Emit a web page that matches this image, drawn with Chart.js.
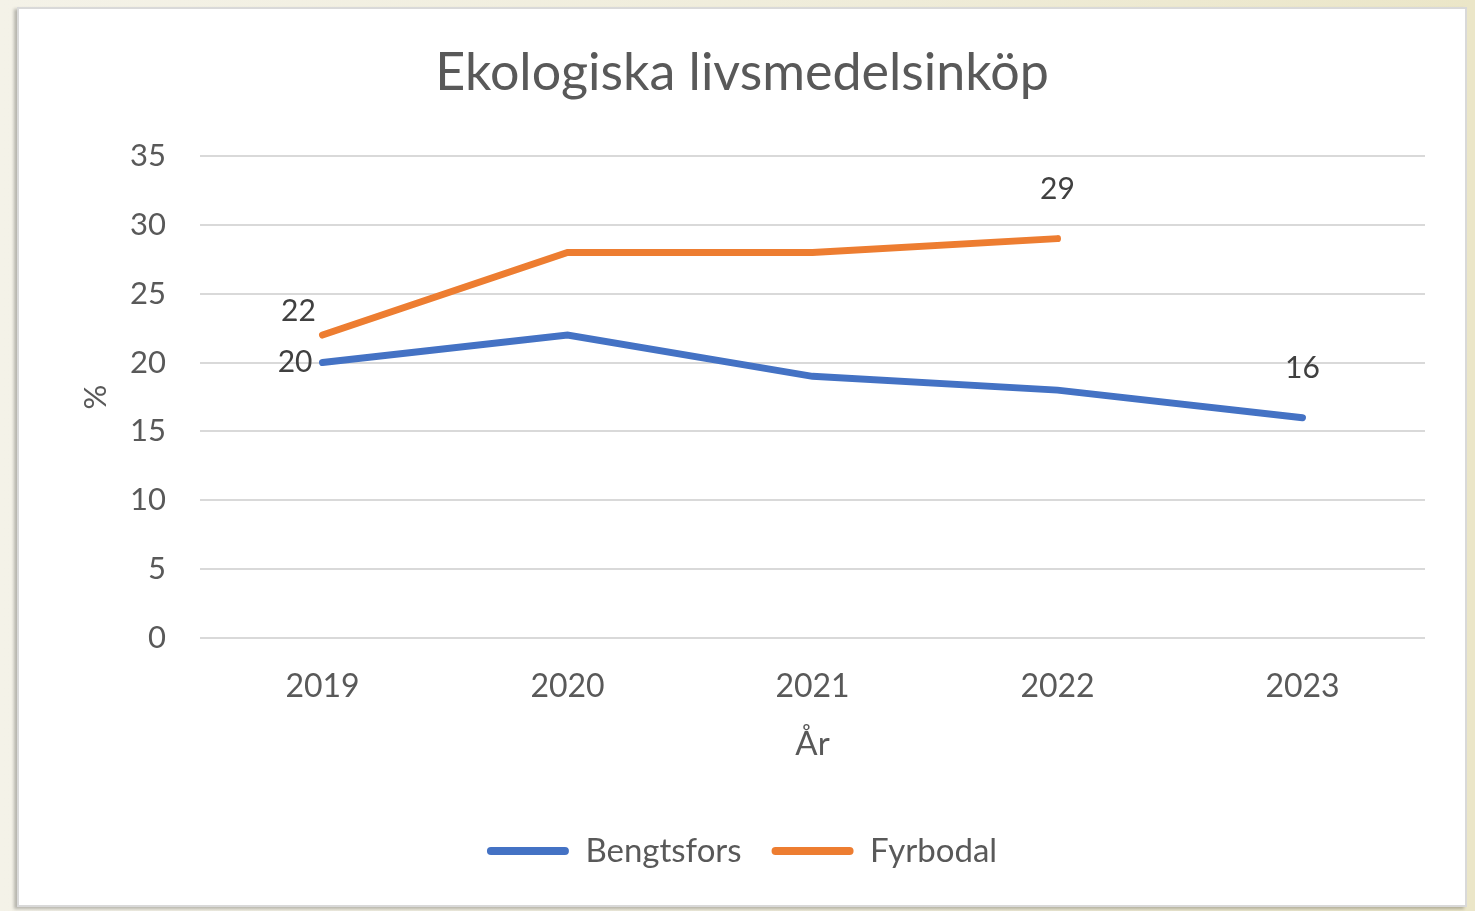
<!DOCTYPE html>
<html>
<head>
<meta charset="utf-8">
<script src="https://cdn.jsdelivr.net/npm/chart.js@4"></script>
<style>
  html, body { margin: 0; padding: 0; }
  body {
    width: 1475px; height: 911px; overflow: hidden;
    background: linear-gradient(90deg, #f4f2e8 0%, #efecd9 60%, #ebe6c8 100%);
  }
  #card {
    position: absolute; left: 17px; top: 7px;
    width: 1446px; height: 896px;
    background: #fff;
    border: 2px solid #d9d9d9;
    box-shadow: -3px 2px 3px rgba(0,0,0,0.25);
  }
</style>
</head>
<body>
<div id="card"><canvas id="ekoChart" width="1446" height="896"></canvas></div>
<script>
// data
const years = ['2019', '2020', '2021', '2022', '2023'];
const bengtsfors = [20, 22, 19, 18, 16];
const fyrbodal = [22, 28, 28, 29, null];
// which points carry a value label
const bengtsforsLabelled = [0, 4];
const fyrbodalLabelled = [0, 3];

const BLUE = '#4472C4';
const ORANGE = '#ED7D31';
const TEXT = '#595959';
const FONT = 'Lato, "Open Sans", sans-serif';

// label placement next to the point (in pixels)
const labelPlacement = {
    '0-0': { dx: -10, dy: 0, align: 'right' },
    '0-4': { dx: 0, dy: -49, align: 'center' },
    '1-0': { dx: -24, dy: -24, align: 'center' },
    '1-3': { dx: 0, dy: -49, align: 'center' }
};

// draw the few value labels by hand
const valueLabels = {
    id: 'valueLabels',
    afterDatasetsDraw(chart) {
        const ctx = chart.ctx;
        const picks = [bengtsforsLabelled, fyrbodalLabelled];
        ctx.save();
        ctx.font = '30px ' + FONT;
        ctx.fillStyle = '#404040';
        ctx.textBaseline = 'middle';
        picks.forEach((idxs, d) => {
            const meta = chart.getDatasetMeta(d);
            idxs.forEach(i => {
                const pt = meta.data[i];
                const p = labelPlacement[d + '-' + i];
                ctx.textAlign = p.align;
                ctx.fillText(chart.data.datasets[d].data[i], pt.x + p.dx, pt.y + p.dy);
            });
        });
        ctx.restore();
    }
};

const ctx = document.getElementById('ekoChart').getContext('2d');
new Chart(ctx, {
    type: 'line',
    data: {
        labels: years,
        datasets: [{
            label: 'Bengtsfors',
            data: bengtsfors,
            borderColor: BLUE,
            backgroundColor: BLUE,
            borderWidth: 7,
            borderCapStyle: 'round',
            pointRadius: 0,
            tension: 0
        }, {
            label: 'Fyrbodal',
            data: fyrbodal,
            borderColor: ORANGE,
            backgroundColor: ORANGE,
            borderWidth: 7,
            borderCapStyle: 'round',
            pointRadius: 0,
            tension: 0
        }]
    },
    options: {
        responsive: false,
        animation: false,
        layout: { padding: { left: 0, right: 0, top: 0, bottom: 27.5 } },
        plugins: {
            title: {
                display: true,
                text: 'Ekologiska livsmedelsinköp',
                color: TEXT,
                font: { family: FONT, size: 52, weight: 'normal' },
                padding: { top: 33, bottom: 51.6 }
            },
            legend: {
                position: 'bottom',
                labels: {
                    color: TEXT,
                    font: { family: FONT, size: 33 },
                    boxWidth: 82,
                    boxHeight: 8,
                    padding: 30,
                    useBorderRadius: true,
                    borderRadius: 4,
                    generateLabels(chart) {
                        return chart.data.datasets.map((ds, i) => ({
                            text: ds.label,
                            fillStyle: ds.borderColor,
                            strokeStyle: ds.borderColor,
                            lineWidth: 0,
                            fontColor: TEXT,
                            borderRadius: 4,
                            datasetIndex: i
                        }));
                    }
                }
            },
            tooltip: { enabled: false }
        },
        scales: {
            x: {
                offset: true,
                grid: { display: false },
                border: { display: false },
                ticks: {
                    color: TEXT,
                    font: { family: FONT, size: 32 },
                    padding: 21,
                    maxRotation: 0
                },
                title: {
                    display: true,
                    text: 'År',
                    color: TEXT,
                    font: { family: FONT, size: 33 },
                    padding: { top: 0, bottom: 40.7 }
                },
                afterFit(scale) { scale.height = 166.5; }
            },
            y: {
                min: 0,
                max: 35,
                grid: { color: '#d9d9d9', lineWidth: 2, drawTicks: false },
                border: { display: false },
                ticks: {
                    stepSize: 5,
                    color: TEXT,
                    font: { family: FONT, size: 31 },
                    padding: 34
                },
                title: {
                    display: true,
                    text: '%',
                    color: TEXT,
                    font: { family: FONT, size: 31 },
                    padding: { top: 58, bottom: 0 }
                },
                afterFit(scale) { scale.width = 181; }
            },
            // empty axis that only keeps a margin on the right side
            spacer: {
                position: 'right',
                grid: { display: false },
                border: { display: false },
                ticks: { display: false },
                afterFit(scale) { scale.width = 40; }
            }
        }
    },
    plugins: [valueLabels]
});
</script>
</body>
</html>
